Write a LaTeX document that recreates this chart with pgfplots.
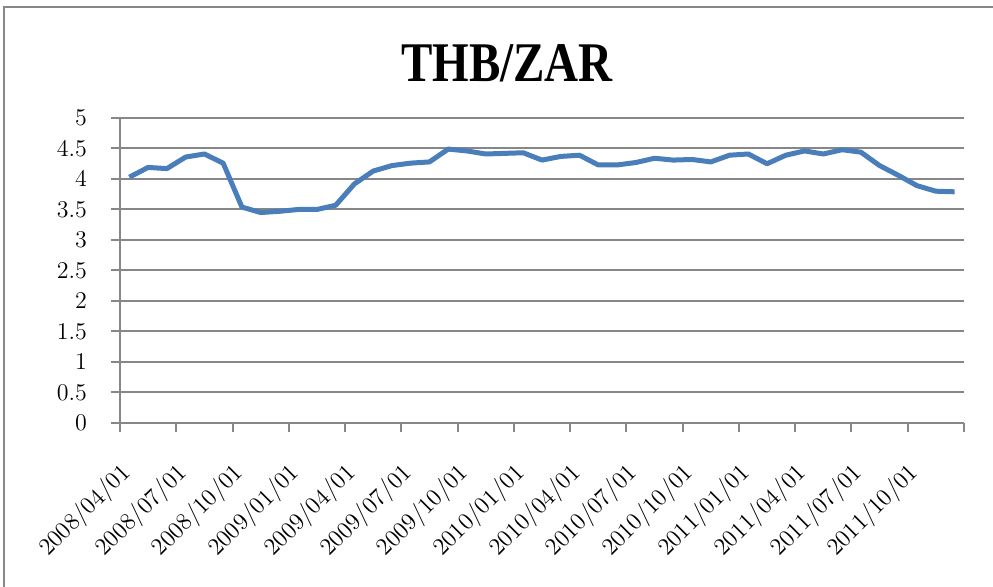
\documentclass[border=0pt]{standalone}
\usepackage{pgfplots}
\pgfplotsset{compat=1.18}
\usepackage{pgfplotstable}
\usepackage{graphicx}
\usepackage{fontspec}
\newfontfamily\titlefont{Liberation Serif}
\definecolor{linblue}{HTML}{4A7EBB}
\definecolor{axgray}{HTML}{878787}

\pgfplotstableread{
idx rate
0 4.03
1 4.19
2 4.17
3 4.36
4 4.41
5 4.26
6 3.54
7 3.45
8 3.47
9 3.50
10 3.50
11 3.57
12 3.92
13 4.13
14 4.22
15 4.26
16 4.28
17 4.49
18 4.46
19 4.41
20 4.42
21 4.43
22 4.31
23 4.37
24 4.39
25 4.23
26 4.23
27 4.27
28 4.34
29 4.31
30 4.32
31 4.28
32 4.39
33 4.41
34 4.25
35 4.39
36 4.46
37 4.41
38 4.48
39 4.44
40 4.22
41 4.06
42 3.89
43 3.80
44 3.79
}\thbzar

\begin{document}
\begin{tikzpicture}
\useasboundingbox (-60pt,-82pt) rectangle (436.5pt,211.5pt);
% chart area frame (left and top edges visible)
\draw[axgray, line width=1pt] (-58pt,-90pt) -- (-58pt,208pt) -- (440pt,208pt);
\node[font=\titlefont\bfseries\fontsize{28}{32}\selectfont] at (193.5pt,180pt) {\scalebox{0.84}[1]{THB/ZAR}};
\begin{axis}[
  scale only axis,
  width=422pt, height=152.5pt,
  xmin=-0.5, xmax=44.5,
  ymin=0, ymax=5,
  axis lines*=left,
  axis line style={axgray, line width=1pt, -},
  ytick={0,0.5,...,5},
  yticklabel={\pgfmathprintnumber{\tick}\hspace*{8.5pt}},
  ymajorgrids=true,
  grid style={axgray, line width=1pt},
  xtick={-0.5,2.5,...,44.5},
  xticklabels={},
  extra x ticks={0,3,...,42},
  extra x tick labels={2008/04/01,2008/07/01,2008/10/01,2009/01/01,2009/04/01,2009/07/01,2009/10/01,2010/01/01,2010/04/01,2010/07/01,2010/10/01,2011/01/01,2011/04/01,2011/07/01,2011/10/01},
  extra x tick style={major tick length=0pt},
  tick align=outside,
  major tick length=4.5pt,
  tick style={axgray, line width=1pt},
  yticklabel style={font=\fontsize{12}{14}\selectfont, anchor=east},
  xticklabel style={font=\fontsize{12}{14}\selectfont, rotate=45, anchor=north east, inner xsep=17pt, inner ysep=9.5pt},
]
\addplot[linblue, line width=2.5pt, line join=round, mark=none] table[x=idx, y=rate] {\thbzar};
\end{axis}
\end{tikzpicture}
\end{document}
